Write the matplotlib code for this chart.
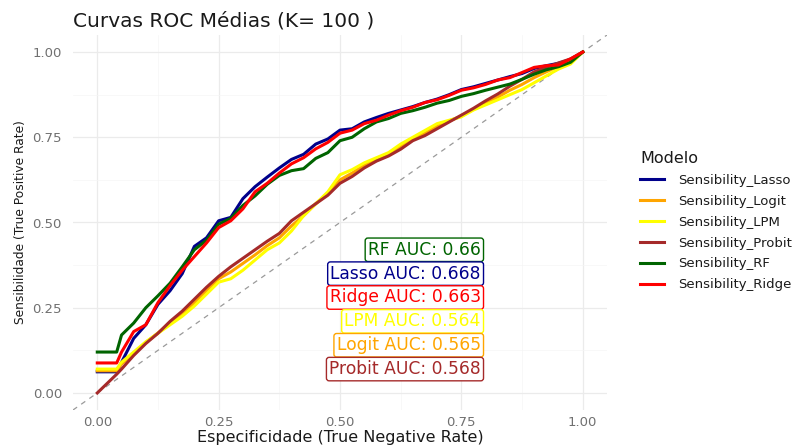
import matplotlib
matplotlib.use("Agg")
import matplotlib.pyplot as plt
from matplotlib.ticker import MultipleLocator

# taxa de falsos positivos comum a todas as curvas médias
fpr = [0.0, 0.04, 0.05, 0.075, 0.1, 0.125, 0.15, 0.175, 0.2, 0.225,
       0.25, 0.275, 0.3, 0.325, 0.35, 0.375, 0.4, 0.425, 0.45, 0.475,
       0.5, 0.525, 0.55, 0.575, 0.6, 0.625, 0.65, 0.675, 0.7, 0.725,
       0.75, 0.775, 0.8, 0.825, 0.85, 0.875, 0.9, 0.925, 0.95, 0.975, 1.0]

sens_lasso = [0.062, 0.062, 0.09, 0.16, 0.20, 0.26, 0.30, 0.35, 0.43, 0.455,
              0.505, 0.515, 0.57, 0.605, 0.633, 0.66, 0.685, 0.70, 0.73, 0.745,
              0.771, 0.775, 0.795, 0.808, 0.82, 0.83, 0.84, 0.852, 0.862, 0.875,
              0.89, 0.898, 0.908, 0.918, 0.928, 0.937, 0.952, 0.96, 0.967, 0.978, 1.0]
sens_logit = [0.065, 0.065, 0.085, 0.115, 0.148, 0.176, 0.205, 0.232, 0.265, 0.30,
              0.335, 0.355, 0.38, 0.405, 0.432, 0.455, 0.49, 0.52, 0.555, 0.585,
              0.625, 0.645, 0.668, 0.685, 0.70, 0.722, 0.745, 0.762, 0.782, 0.798,
              0.812, 0.832, 0.85, 0.868, 0.888, 0.905, 0.925, 0.942, 0.958, 0.972, 1.0]
sens_lpm = [0.07, 0.07, 0.09, 0.12, 0.15, 0.175, 0.20, 0.225, 0.255, 0.29,
            0.325, 0.335, 0.36, 0.39, 0.42, 0.44, 0.475, 0.52, 0.555, 0.59,
            0.64, 0.655, 0.675, 0.69, 0.705, 0.73, 0.75, 0.77, 0.79, 0.80,
            0.81, 0.83, 0.845, 0.86, 0.875, 0.89, 0.91, 0.93, 0.95, 0.965, 1.0]
sens_probit = [0.0, 0.055, 0.07, 0.11, 0.145, 0.175, 0.21, 0.24, 0.275, 0.31,
               0.342, 0.37, 0.395, 0.42, 0.445, 0.468, 0.505, 0.53, 0.555, 0.58,
               0.615, 0.635, 0.66, 0.68, 0.695, 0.715, 0.74, 0.755, 0.775, 0.795,
               0.815, 0.835, 0.857, 0.877, 0.90, 0.92, 0.942, 0.955, 0.968, 0.98, 1.0]
sens_rf = [0.12, 0.12, 0.17, 0.205, 0.25, 0.285, 0.322, 0.37, 0.42, 0.448,
           0.495, 0.512, 0.55, 0.578, 0.612, 0.638, 0.652, 0.658, 0.688, 0.705,
           0.74, 0.75, 0.775, 0.795, 0.805, 0.82, 0.828, 0.838, 0.85, 0.858,
           0.87, 0.878, 0.888, 0.897, 0.906, 0.92, 0.935, 0.948, 0.957, 0.97, 1.0]
sens_ridge = [0.088, 0.088, 0.12, 0.18, 0.20, 0.265, 0.315, 0.36, 0.40, 0.44,
              0.485, 0.505, 0.54, 0.59, 0.615, 0.645, 0.672, 0.69, 0.716, 0.735,
              0.762, 0.771, 0.79, 0.80, 0.815, 0.828, 0.838, 0.852, 0.86, 0.873,
              0.888, 0.895, 0.905, 0.918, 0.925, 0.94, 0.955, 0.96, 0.962, 0.98, 1.0]

modelos = ["Lasso", "Logit", "LPM", "Probit", "RF", "Ridge"]
curvas = [sens_lasso, sens_logit, sens_lpm, sens_probit, sens_rf, sens_ridge]
cores = ["#00008B", "#FFA500", "#FFFF00", "#A52A2A", "#006400", "#FF0000"]

# AUC de cada modelo, na ordem em que as etiquetas aparecem
auc_modelos = ["RF", "Lasso", "Ridge", "LPM", "Logit", "Probit"]
auc_valores = ["0.66", "0.668", "0.663", "0.564", "0.565", "0.568"]
auc_y = [0.42, 0.35, 0.28, 0.21, 0.14, 0.07]

fig = plt.figure(figsize=(7.98, 4.48), dpi=100)
ax = fig.add_axes([73 / 798, 38 / 448, 534 / 798, 375 / 448])

ax.axline((0, 0), slope=1, color="#9a9a9a", lw=0.9, ls=(0, (4, 4)), zorder=1)

for nome, y, cor in zip(modelos, curvas, cores):
    ax.plot(fpr, y, color=cor, lw=2.2, label="Sensibility_" + nome, zorder=2)

cor_de = dict(zip(modelos, cores))
for nome, val, yy in zip(auc_modelos, auc_valores, auc_y):
    ax.text(0.79, yy, f"{nome} AUC: {val}", ha="right", va="center",
            fontsize=12.3, color=cor_de[nome], zorder=5,
            bbox=dict(boxstyle="round,pad=0.16", fc="white",
                      ec=cor_de[nome], lw=1))

ax.set_xlim(-0.05, 1.05)
ax.set_ylim(-0.05, 1.05)
ax.xaxis.set_major_locator(MultipleLocator(0.25))
ax.yaxis.set_major_locator(MultipleLocator(0.25))
ax.xaxis.set_minor_locator(MultipleLocator(0.125))
ax.yaxis.set_minor_locator(MultipleLocator(0.125))
ax.xaxis.set_major_formatter(lambda v, p: f"{v:.2f}")
ax.yaxis.set_major_formatter(lambda v, p: f"{v:.2f}")
ax.grid(which="major", color="#ebebeb", lw=0.9)
ax.grid(which="minor", color="#f5f5f5", lw=0.5)
ax.set_axisbelow(True)
for s in ax.spines.values():
    s.set_visible(False)
ax.tick_params(which="both", length=0)
ax.tick_params(labelsize=9.5, labelcolor="#707070")
ax.tick_params(axis="y", pad=8)
ax.tick_params(axis="x", pad=4)

ax.set_xlabel("Especificidade (True Negative Rate)", fontsize=11.5, color="#1a1a1a", labelpad=1)
ax.set_ylabel("Sensibilidade (True Positive Rate)", fontsize=8.8, color="#1a1a1a", labelpad=4)
ax.set_title("Curvas ROC Médias (K= 100 )", loc="left", fontsize=14.5, color="#1a1a1a", pad=6)

leg = ax.legend(loc="upper left", bbox_to_anchor=(628 / 798, 1 - 139 / 448),
                bbox_transform=fig.transFigure, frameon=False, title="Modelo",
                fontsize=9.5, title_fontsize=11.5, alignment="left",
                handlelength=1.8, handletextpad=1.1, labelspacing=0.6)
for t in leg.get_texts():
    t.set_color("#1a1a1a")
leg.get_title().set_color("#1a1a1a")

fig.savefig("out.png", dpi=100)
